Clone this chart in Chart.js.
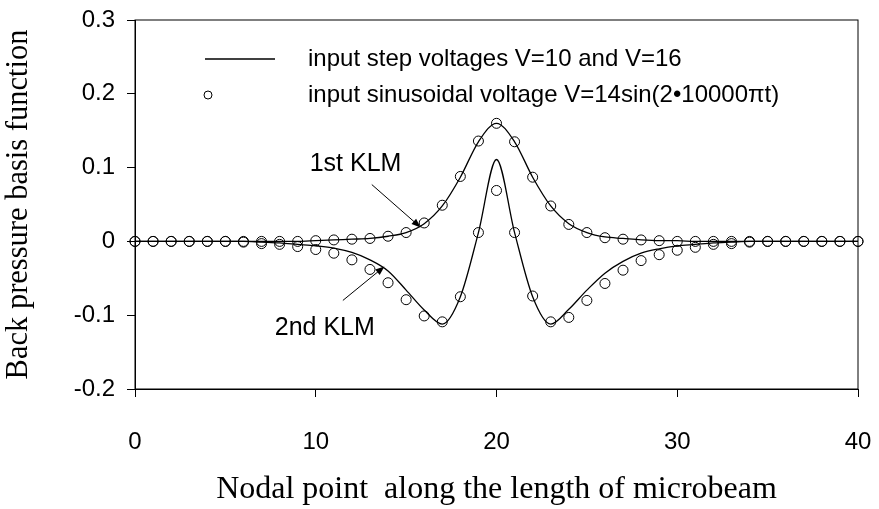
<!DOCTYPE html>
<html>
<head>
<meta charset="utf-8">
<script src="https://cdn.jsdelivr.net/npm/chart.js@4.4.0/dist/chart.umd.min.js"></script>
<style>
html,body{margin:0;padding:0;background:#fff;}
</style>
</head>
<body>
<canvas id="chart" width="879" height="509"></canvas>
<script>
// ===== DATA =====
const nodes = Array.from({length:41}, (_,i)=>i);   // nodal points 0..40

// input step voltages V=10 and V=16 (solid lines)
const firstStep  = [0,0,0,0,0,0,0,0,0,0, 0.001,0.002,0.003,0.004,0.007,0.012,0.024,0.048,0.087,0.135,
                    0.160,
                    0.135,0.087,0.048,0.024,0.012,0.006,0.004,0.002,0.001,0.001, 0,0,0,0,0,0,0,0,0,0];
const secondStep = [0,0,0,0,0,0,0,-0.001,-0.002,-0.004, -0.006,-0.009,-0.015,-0.025,-0.040,-0.066,-0.093,-0.112,-0.075,0.012,
                    0.111,
                    0.012,-0.075,-0.112,-0.092,-0.066,-0.043,-0.027,-0.016,-0.010,-0.006, -0.004,-0.002,-0.001,0,0,0,0,0,0,0];

// input sinusoidal voltage (open circles)
const firstSine  = [0,0,0,0,0,0,0,0,0,0, 0.001,0.002,0.003,0.004,0.007,0.012,0.025,0.049,0.088,0.136,
                    0.160,
                    0.135,0.087,0.048,0.023,0.012,0.005,0.003,0.002,0.001,0, 0,0,0,0,0,0,0,0,0,0];
const secondSine = [0,0,0,0,0,0,-0.001,-0.003,-0.004,-0.007, -0.011,-0.016,-0.025,-0.038,-0.056,-0.079,-0.101,-0.109,-0.075,0.012,
                    0.069,
                    0.012,-0.074,-0.109,-0.103,-0.080,-0.057,-0.039,-0.026,-0.018,-0.012, -0.008,-0.004,-0.003,-0.001,0,0,0,0,0,0];

const xTicks = [0,10,20,30,40];
const yTicks = [-0.2,-0.1,0,0.1,0.2,0.3];
const legendLabels = ["input step voltages V=10 and V=16", "input sinusoidal voltage V=14sin(2\u202210000\u03c0t)"];
const xTitle = "Nodal point  along the length of microbeam";
const yTitle = "Back pressure basis function";

// annotation text + arrows, in data units
const notes = [
    {text:"1st KLM", at:[12.2, 0.105],  from:[13.1, 0.077],  to:[15.8, 0.019]},
    {text:"2nd KLM", at:[10.5, -0.118], from:[11.5, -0.080], to:[13.8, -0.034]}
];

const pts = arr => nodes.map((n,i)=>({x:n, y:arr[i]}));

// ===== STYLES =====
const SANS = "'Liberation Sans', Arial, sans-serif";
const SERIF = "'Liberation Serif', 'Times New Roman', serif";

const lineStyle = {
    borderColor:"#000", borderWidth:1.3, pointRadius:0, fill:false,
    cubicInterpolationMode:"monotone", showLine:true
};
const dotStyle = {
    showLine:false, pointRadius:5, pointBorderWidth:1,
    pointBorderColor:"#000", pointBackgroundColor:"rgba(0,0,0,0)", clip:false
};

// ===== PLUGINS =====
const framePlugin = {
    id:"frame",
    beforeDatasetsDraw(chart){
        const {ctx, chartArea:a} = chart;
        ctx.save();
        ctx.strokeStyle = "#000";
        ctx.lineWidth = 1;
        ctx.strokeRect(a.left, a.top, a.right-a.left, a.bottom-a.top);
        ctx.restore();
    }
};

function arrow(ctx, x1, y1, x2, y2){
    const ang = Math.atan2(y2-y1, x2-x1);
    const L = 9, W = 3.5;
    ctx.beginPath();
    ctx.moveTo(x1, y1);
    ctx.lineTo(x2 - Math.cos(ang)*L*0.8, y2 - Math.sin(ang)*L*0.8);
    ctx.stroke();
    ctx.beginPath();
    ctx.moveTo(x2, y2);
    ctx.lineTo(x2 - Math.cos(ang)*L + Math.sin(ang)*W, y2 - Math.sin(ang)*L - Math.cos(ang)*W);
    ctx.lineTo(x2 - Math.cos(ang)*L - Math.sin(ang)*W, y2 - Math.sin(ang)*L + Math.cos(ang)*W);
    ctx.closePath();
    ctx.fill();
}

const notesPlugin = {
    id:"notes",
    afterDraw(chart){
        const {ctx, chartArea:a, scales:{x, y}} = chart;
        ctx.save();
        ctx.fillStyle = "#000";
        ctx.strokeStyle = "#000";
        ctx.lineWidth = 1;

        // legend
        ctx.font = "24px " + SANS;
        ctx.textBaseline = "middle";
        ctx.textAlign = "left";
        const lx = a.left + 70, tx = a.left + 173;
        const r1 = a.top + 39, r2 = a.top + 75;
        ctx.lineWidth = 1.3;
        ctx.beginPath(); ctx.moveTo(lx, r1); ctx.lineTo(lx + 70, r1); ctx.stroke();
        ctx.lineWidth = 1;
        ctx.beginPath(); ctx.arc(lx + 3, r2, 4, 0, Math.PI*2); ctx.stroke();
        ctx.fillText(legendLabels[0], tx, r1);
        ctx.fillText(legendLabels[1], tx, r2);

        // KLM notes
        ctx.font = "25px " + SANS;
        ctx.textAlign = "center";
        notes.forEach(n=>{
            ctx.fillText(n.text, x.getPixelForValue(n.at[0]), y.getPixelForValue(n.at[1]));
            arrow(ctx, x.getPixelForValue(n.from[0]), y.getPixelForValue(n.from[1]),
                       x.getPixelForValue(n.to[0]),   y.getPixelForValue(n.to[1]));
        });
        ctx.restore();
    }
};

// ===== CHART =====
const axisBase = {
    type:"linear",
    grid:{drawOnChartArea:false, drawTicks:true, tickLength:8, color:"#000", lineWidth:1},
    border:{color:"#000", width:1},
};

new Chart(document.getElementById("chart"), {
    type:"line",
    data:{
        datasets:[
            {label:legendLabels[0], data:pts(firstStep),  ...lineStyle},
            {label:legendLabels[0], data:pts(secondStep), ...lineStyle},
            {label:legendLabels[1], data:pts(firstSine),  ...dotStyle},
            {label:legendLabels[1], data:pts(secondSine), ...dotStyle}
        ]
    },
    options:{
        responsive:false,
        animation:false,
        devicePixelRatio:1,
        layout:{padding:{top:20, right:21, left:0, bottom:0}},
        plugins:{legend:{display:false}, tooltip:{enabled:false}},
        scales:{
            x:{
                ...axisBase,
                min:0, max:40,
                afterBuildTicks: s => { s.ticks = xTicks.map(v=>({value:v})); },
                afterFit: s => { s.height = 120; s.paddingLeft = 0; s.paddingRight = 0; },
                ticks:{color:"#000", font:{family:SANS, size:24}, padding:31, maxRotation:0},
                title:{display:true, text:xTitle, color:"#000", font:{family:SERIF, size:32}, padding:{top:0, bottom:0}}
            },
            y:{
                ...axisBase,
                min:-0.2, max:0.3,
                afterBuildTicks: s => { s.ticks = yTicks.map(v=>({value:v})); },
                afterFit: s => { s.width = 135; s.paddingTop = 0; s.paddingBottom = 0; },
                ticks:{color:"#000", font:{family:SANS, size:24}, padding:12,
                       callback: v => v === 0 ? "0" : v.toFixed(1)},
                title:{display:true, text:yTitle, color:"#000", font:{family:SERIF, size:30.5}, padding:{top:1, bottom:0}}
            }
        }
    },
    plugins:[framePlugin, notesPlugin]
});
</script>
</body>
</html>
